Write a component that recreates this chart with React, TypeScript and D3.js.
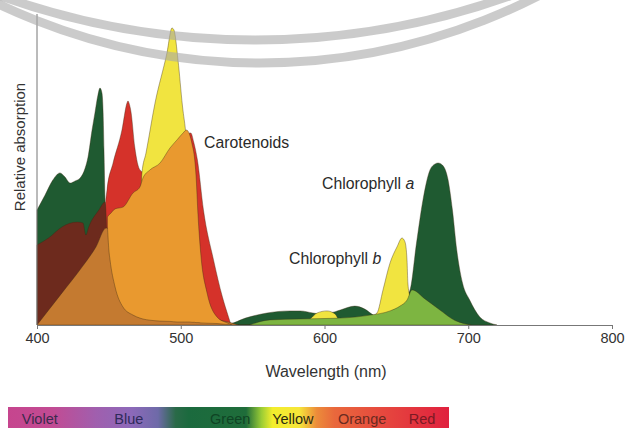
import * as d3 from 'd3';
import React, { useRef, useEffect } from 'react';

const width = 632;
const height = 428;

// [wavelength nm, relative absorption 0-100]
const chlorophyllA: [number, number][] = [
  [400, 38.3], [405.6, 43.3], [411, 48.3], [416, 50.7], [419.5, 49.3], [423, 47.3],
  [426.5, 48], [430, 49], [433.5, 52.3], [435.5, 56], [438.3, 65], [440.3, 70.7],
  [442.4, 76.7], [443.8, 79], [445.2, 77.3], [446, 70.7], [446.6, 58.3], [447.3, 41.7],
  [449.4, 21.7], [454, 8.3], [465, 1.7], [486, 0.3], [534, 0.5], [545, 2.3], [560, 4],
  [576, 4.7], [583, 4.7], [592, 4], [597, 3.7], [604, 4], [611, 5], [621, 6.3],
  [628, 5.3], [634, 3.3], [639, 2.3], [646, 3.3], [652.5, 6.7], [659.5, 11.7],
  [664, 27.3], [668.5, 41.7], [673.4, 51.7], [677, 53.7], [679, 54], [682, 53.3],
  [686, 48.3], [689, 38.3], [692, 25], [696, 14], [701, 8.3], [708, 2.7], [715, 0.7], [720, 0],
];

const redBand: [number, number][] = [
  [445.9, 0], [447.3, 37.3], [448.7, 45], [452.9, 54], [459.1, 65], [462.6, 74],
  [463.3, 74.7], [464, 74], [465.4, 71], [468, 59.3], [471.6, 51.7], [478, 50],
  [490, 53], [500, 60], [503, 63], [507, 64], [509, 61], [511.6, 55], [515.8, 38.3],
  [522.8, 21.7], [529, 9.3], [533, 3], [535, 0],
];

const yellowBand: [number, number][] = [
  [471, 0], [473, 50.7], [475.8, 57.3], [482.1, 74], [490.4, 90.7], [493.9, 99],
  [495.3, 98.3], [498.1, 88.3], [501.2, 73], [503.7, 63], [507.8, 30], [512, 0],
  [583, 0], [590, 2], [594.8, 4], [601.7, 4.7], [607.3, 3.7], [610.8, 1.5],
  [624.7, 1.5], [631.7, 2.7], [636.5, 4], [640.7, 11.7], [645.6, 20.7], [650.4, 26],
  [653.9, 29], [656, 27.7], [657.4, 21.7], [658, 14], [659.5, 9], [662.3, 0],
];

const maroonBand: [number, number][] = [
  [400, 26.7], [408, 29], [417.4, 32.7], [428, 34.3], [432, 34], [434, 30],
  [436, 32.7], [443, 38.3], [447.3, 41], [448.2, 35], [449, 20], [450.5, 0],
];

const tanBand: [number, number][] = [
  [400, 0], [417.4, 10.7], [431.3, 19.3], [441, 26], [448, 32.3], [450.8, 31.7],
  [456.3, 26.7], [470.4, 11.7], [491.3, 5], [512, 2.7], [533, 1], [540, 0],
];

// carotenoids: [wavelength, top, bottom]
const carotenoids: [number, number, number][] = [
  [449, 36, 33], [450, 36.7, 25], [450.8, 37, 21.7], [454.3, 38.7, 12.7],
  [459.8, 39.3, 6], [466.8, 44, 3.3], [471.6, 46, 2.3], [473.7, 49, 2],
  [478.6, 51.7, 1.6], [485.6, 54, 1.3], [492.5, 59, 1.2], [497.4, 61.7, 1],
  [501.6, 64, 1], [504, 65, 1], [506, 63.7, 1], [508, 60, 0.9], [509.5, 56, 0.9],
  [510.6, 50, 0.8], [512, 36.7, 0.8], [514, 23.3, 0.7], [518.3, 10.7, 0.6],
  [525.2, 2.7, 0.5], [532.2, 0.7, 0.2], [535.6, 0, 0],
];

const lightGreenBand: [number, number][] = [
  [548, 0], [562, 1.7], [583, 2], [610.8, 2.3], [631.7, 3.3], [645.6, 4.7],
  [652.5, 6.3], [657.4, 8.3], [660.9, 11.7], [669.9, 8.7], [680.3, 5],
  [690.8, 1.5], [697.7, 0.4], [702, 0],
];

const xTicks = [400, 500, 600, 700, 800];
const spectrumNames = ['Violet', 'Blue', 'Green', 'Yellow', 'Orange', 'Red'];

const font = '"Liberation Sans", Arial, sans-serif';

const AbsorptionChart = () => {
  const containerRef = useRef<HTMLDivElement>(null);

  useEffect(() => {
    if (!containerRef.current) return;
    d3.select(containerRef.current).selectAll('*').remove();

    const svg = d3
      .select(containerRef.current)
      .append('svg')
      .attr('width', width)
      .attr('height', height)
      .style('position', 'absolute')
      .style('left', 0)
      .style('top', 0)
      .style('background', '#fff');

    const x = d3.scaleLinear().domain([400, 800]).range([37, 612]);
    const y = d3.scaleLinear().domain([0, 100]).range([325, 25]);

    const area = d3
      .area<[number, number]>()
      .x((d) => x(d[0]))
      .y0(y(0))
      .y1((d) => y(d[1]))
      .curve(d3.curveMonotoneX);

    const edge = (sel: d3.Selection<SVGPathElement, unknown, null, undefined>) =>
      sel.attr('stroke', '#3d2a12').attr('stroke-width', 0.7).attr('stroke-opacity', 0.55);

    const g = svg.append('g');

    g.append('path').attr('d', area(chlorophyllA)).attr('fill', '#1f5a31').call(edge);
    g.append('path').attr('d', area(redBand)).attr('fill', '#d5322a').call(edge);
    g.append('path').attr('d', area(yellowBand)).attr('fill', '#f1e440').call(edge);
    g.append('path').attr('d', area(maroonBand)).attr('fill', '#6d2a1d').call(edge);
    g.append('path').attr('d', area(tanBand)).attr('fill', '#c47a30').call(edge);

    const caroArea = d3
      .area<[number, number, number]>()
      .x((d) => x(d[0]))
      .y0((d) => y(d[2]))
      .y1((d) => y(d[1]))
      .curve(d3.curveMonotoneX);
    g.append('path').attr('d', caroArea(carotenoids)).attr('fill', '#e9992f').call(edge);

    g.append('path').attr('d', area(lightGreenBand)).attr('fill', '#7db541').call(edge);

    // axes
    svg
      .append('line')
      .attr('x1', x(400))
      .attr('x2', x(400))
      .attr('y1', 14)
      .attr('y2', y(0))
      .attr('stroke', '#777');

    const xAxis = d3.axisBottom(x).tickValues(xTicks).tickSize(4).tickSizeOuter(0).tickPadding(4);
    const ax = svg.append('g').attr('transform', `translate(0, ${y(0)})`).call(xAxis);
    ax.select('.domain').attr('stroke', '#777');
    ax.selectAll('.tick line').attr('stroke', '#777');
    ax.selectAll('.tick text')
      .attr('font-family', font)
      .attr('font-size', 14.5)
      .attr('fill', '#333');

    svg
      .append('text')
      .attr('x', 326)
      .attr('y', 377)
      .attr('text-anchor', 'middle')
      .attr('font-family', font)
      .attr('font-size', 16)
      .attr('fill', '#333')
      .text('Wavelength (nm)');

    svg
      .append('text')
      .attr('transform', 'translate(25, 147) rotate(-90)')
      .attr('text-anchor', 'middle')
      .attr('font-family', font)
      .attr('font-size', 15)
      .attr('fill', '#333')
      .text('Relative absorption');

    const label = (tx: number, ty: number, main: string, it?: string) => {
      const t = svg
        .append('text')
        .attr('x', tx)
        .attr('y', ty)
        .attr('font-family', font)
        .attr('font-size', 15.8)
        .attr('fill', '#2a2a2a')
        .text(main);
      if (it) t.append('tspan').attr('font-style', 'italic').text(` ${it}`);
    };
    label(204, 148, 'Carotenoids');
    label(322, 189, 'Chlorophyll', 'a');
    label(289, 264, 'Chlorophyll', 'b');

    // visible spectrum strip
    const defs = svg.append('defs');
    const grad = defs
      .append('linearGradient')
      .attr('id', 'spectrum')
      .attr('x1', '0%')
      .attr('x2', '100%');
    const stops: [number, string][] = [
      [0, '#c6458e'], [0.1, '#c24b93'], [0.2, '#a05fae'], [0.28, '#8c69b9'],
      [0.34, '#6e6aa8'], [0.38, '#2a6a48'], [0.41, '#1b6a3e'], [0.54, '#1f6d3a'],
      [0.575, '#9ccd35'], [0.6, '#f3ee2c'], [0.66, '#f6e63a'], [0.7, '#ec8c3a'],
      [0.74, '#e9683c'], [0.85, '#e6483e'], [1, '#e0203e'],
    ];
    stops.forEach(([o, c]) => grad.append('stop').attr('offset', o).attr('stop-color', c));

    const barX = d3.scaleLinear().domain([0, 1]).range([8, 449]);
    svg
      .append('rect')
      .attr('x', barX(0))
      .attr('y', 407)
      .attr('width', barX(1) - barX(0))
      .attr('height', 25)
      .attr('fill', 'url(#spectrum)');

    const labelAt = [0.072, 0.274, 0.504, 0.646, 0.803, 0.939];
    const labelFill = ['#3b2a4d', '#2e2a5a', '#0f4424', '#2a2a10', '#6a2a20', '#7a1a24'];
    svg
      .append('g')
      .selectAll('text')
      .data(spectrumNames)
      .join('text')
      .attr('x', (_, i) => barX(labelAt[i]))
      .attr('y', 424)
      .attr('text-anchor', 'middle')
      .attr('font-family', font)
      .attr('font-size', 14.5)
      .attr('fill', (_, i) => labelFill[i])
      .text((d) => d);

    // scan watermark arcs
    svg
      .append('circle')
      .attr('cx', 255)
      .attr('cy', -718)
      .attr('r', 758)
      .attr('fill', 'none')
      .attr('stroke', '#a8a8a8')
      .attr('stroke-width', 9)
      .attr('opacity', 0.6);
    svg
      .append('circle')
      .attr('cx', 260)
      .attr('cy', -547)
      .attr('r', 610)
      .attr('fill', 'none')
      .attr('stroke', '#a8a8a8')
      .attr('stroke-width', 9)
      .attr('opacity', 0.6);
  }, []);

  return <div ref={containerRef}></div>;
};

export default function App() {
  return <AbsorptionChart />;
}
